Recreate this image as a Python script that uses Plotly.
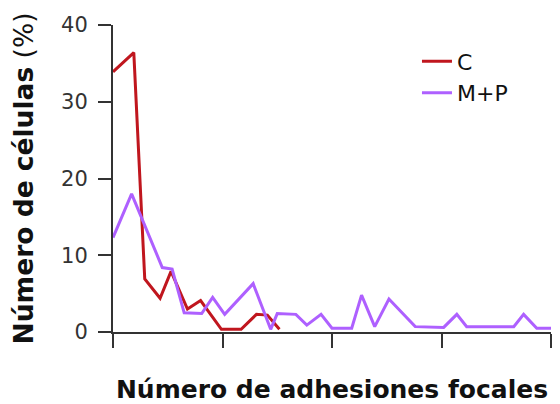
import plotly.graph_objects as go

# Data (x in arbitrary bin units, axis 0-40; y in %)
c_x = [0, 1.9, 2.9, 4.3, 5.3, 6.8, 8.0, 9.9, 11.7, 13.1, 14.1, 15.2]
c_y = [33.9, 36.4, 6.9, 4.4, 7.9, 3.0, 4.1, 0.35, 0.35, 2.3, 2.2, 0.35]

mp_x = [0, 1.7, 4.5, 5.4, 6.5, 8.1, 9.1, 10.2, 12.8, 14.4, 15.0, 16.7, 17.7, 19.0,
        20.0, 21.8, 22.7, 23.9, 25.2, 27.6, 30.2, 31.4, 32.3, 36.6, 37.5, 38.7, 40]
mp_y = [12.3, 18.0, 8.4, 8.2, 2.5, 2.4, 4.5, 2.3, 6.3, 0.35, 2.4, 2.3, 0.9, 2.3,
        0.5, 0.5, 4.8, 0.7, 4.3, 0.7, 0.6, 2.3, 0.7, 0.7, 2.3, 0.5, 0.5]

y_ticks = [0, 10, 20, 30, 40]
x_ticks = [0, 10, 20, 30, 40]

series_names = ["C", "M+P"]
series_colors = ["#C0161E", "#AE60FF"]

FONT = "DejaVu Sans"

fig = go.Figure()
fig.add_trace(go.Scatter(x=c_x, y=c_y, mode="lines", name=series_names[0],
                         line=dict(color=series_colors[0], width=3)))
fig.add_trace(go.Scatter(x=mp_x, y=mp_y, mode="lines", name=series_names[1],
                         line=dict(color=series_colors[1], width=3)))

# page body has an 8px margin, so the figure is sized to fit inside it
fig.update_layout(
    width=544, height=396,
    margin=dict(l=105, r=1, t=17, b=72),
    paper_bgcolor="white", plot_bgcolor="white",
    font=dict(family=FONT, color="#222"),
    showlegend=True,
    legend=dict(x=0.694, y=0.95, xanchor="left", yanchor="top",
                font=dict(family=FONT, size=22, color="#111"),
                bgcolor="rgba(0,0,0,0)", tracegroupgap=0),
    xaxis=dict(
        range=[0, 40], tickvals=x_ticks, showticklabels=False,
        ticks="outside", ticklen=14, tickwidth=2, tickcolor="#333",
        showline=True, linecolor="#333", linewidth=2,
        showgrid=False, zeroline=False, automargin=False,
        title=dict(text="<b>Número de adhesiones focales</b>",
                   font=dict(family=FONT, size=25, color="#111"), standoff=36),
    ),
    yaxis=dict(
        range=[0, 40], tickvals=y_ticks,
        ticks="outside", ticklen=13, tickwidth=2, tickcolor="#333",
        showline=True, linecolor="#333", linewidth=2,
        showgrid=False, zeroline=False, automargin=False,
        tickfont=dict(family=FONT, size=21, color="#333"),
        ticklabelstandoff=6,
        title=dict(text="<b>Número de células</b> (%)",
                   font=dict(family=FONT, size=26.5, color="#111"), standoff=23),
    ),
)

fig.write_html("out.html")
